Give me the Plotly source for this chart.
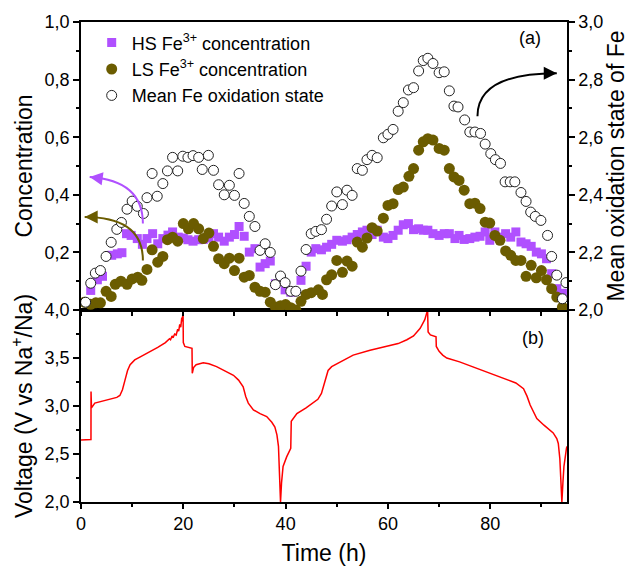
import plotly.graph_objects as go

# ---------------- data ----------------
hs_t = [1.9, 3.2, 4.2, 6.0, 7.1, 8.0, 8.9, 9.8, 11.0, 12.0, 12.9, 14.0, 15.0, 16.0, 17.0, 17.9, 19.0, 20.0,
        20.9, 21.9, 23.0, 23.9, 25.0, 25.9, 26.9, 28.0, 29.0, 30.0, 30.9, 31.9, 32.9, 34.0, 35.0, 36.0, 37.0,
        38.0, 39.0, 39.9, 41.0, 43.0, 44.0, 45.0, 45.9, 47.0, 48.0, 49.0, 50.0, 51.1, 52.0, 53.0, 54.0,
        55.0, 55.9, 56.9, 57.9, 59.1, 60.0, 61.0, 62.0, 63.0, 64.0, 65.0, 66.0, 66.9, 67.8, 68.8, 70.0, 71.0,
        72.0, 73.1, 73.9, 74.9, 76.0, 77.0, 78.0, 79.0, 79.9, 80.9, 81.9, 83.0, 84.0, 85.0, 86.0, 87.0, 88.0,
        89.0, 90.0, 91.0, 92.0, 93.0, 94.1]
hs_c = [0.068, 0.105, 0.117, 0.19, 0.195, 0.199, 0.265, 0.259, 0.248, 0.228, 0.248, 0.265, 0.23, 0.248, 0.26,
        0.271, 0.253, 0.25, 0.244, 0.239, 0.244, 0.245, 0.25, 0.265, 0.253, 0.239, 0.253, 0.262, 0.29, 0.256,
        0.201, 0.213, 0.149, 0.161, 0.17, 0.091, 0.103, 0.07, 0.062, 0.103, 0.152, 0.201, 0.213, 0.209, 0.218,
        0.228, 0.242, 0.239, 0.244, 0.253, 0.262, 0.271, 0.277, 0.262, 0.277, 0.253, 0.248, 0.259, 0.277, 0.296,
        0.30, 0.279, 0.282, 0.277, 0.277, 0.265, 0.259, 0.265, 0.265, 0.248, 0.259, 0.245, 0.248, 0.253, 0.256,
        0.271, 0.242, 0.271, 0.253, 0.265, 0.253, 0.271, 0.236, 0.230, 0.221, 0.201, 0.195, 0.178, 0.126, 0.074,
        0.058]

ls_t = [0.7, 1.9, 2.9, 3.8, 4.9, 5.9, 6.7, 7.8, 9.0, 10.0, 11.1, 11.9, 12.9, 13.9, 15.0, 16.0, 16.9, 17.9, 18.9,
        20.0, 21.0, 22.0, 23.0, 23.9, 25.0, 25.9, 26.9, 28.0, 29.0, 30.0, 30.9, 31.9, 32.9, 34.0, 35.0, 36.0,
        37.0, 38.0, 39.0, 40.0, 41.0, 42.0, 43.0, 44.0, 45.0, 46.4, 47.2, 48.0, 49.0, 50.0, 51.1, 52.0, 53.0,
        54.0, 55.0, 55.9, 56.9, 57.9, 59.1, 60.0, 61.0, 62.0, 63.0, 64.1, 65.0, 66.0, 66.9, 67.8, 68.8, 70.0,
        71.0, 72.0, 72.9, 73.9, 74.9, 76.0, 77.0, 78.0, 79.0, 79.9, 80.9, 81.9, 83.0, 84.0, 85.0, 86.0, 87.0,
        88.0, 89.0, 90.0, 91.0, 92.0, 93.0, 94.1]
ls_c = [0.027, 0.02, 0.025, 0.025, 0.065, 0.047, 0.089, 0.10, 0.089, 0.108, 0.114, 0.103, 0.141, 0.209, 0.166,
        0.186, 0.244, 0.253, 0.239, 0.30, 0.282, 0.30, 0.282, 0.248, 0.267, 0.221, 0.178, 0.161, 0.18, 0.137,
        0.18, 0.114, 0.12, 0.079, 0.065, 0.062, 0.027, 0.01, 0.015, 0.019, 0.008, 0.0, 0.03, 0.054, 0.06, 0.07,
        0.054, 0.105, 0.122, 0.172, 0.131, 0.17, 0.152, 0.236, 0.218, 0.25, 0.286, 0.274, 0.319, 0.363, 0.369,
        0.418, 0.427, 0.464, 0.491, 0.555, 0.584, 0.595, 0.59, 0.561, 0.555, 0.491, 0.462, 0.45, 0.416, 0.369,
        0.371, 0.352, 0.305, 0.302, 0.259, 0.242, 0.205, 0.19, 0.172, 0.172, 0.117, 0.155, 0.112, 0.137, 0.105,
        0.074, 0.045, 0.01]

ox_t = [0.9, 1.9, 2.8, 3.8, 4.9, 5.9, 7.0, 7.9, 9.0, 10.0, 11.0, 12.2, 12.9, 13.9, 14.9, 16.0, 16.9, 17.9, 18.9,
        19.9, 20.9, 21.9, 23.0, 23.7, 24.9, 25.9, 26.9, 28.0, 29.0, 30.0, 30.9, 31.9, 32.9, 34.0, 35.0, 36.0,
        37.0, 38.0, 39.0, 39.9, 41.0, 42.0, 43.0, 44.0, 45.0, 45.9, 47.0, 48.0, 49.0, 50.0, 51.1, 52.0, 53.0,
        54.0, 55.0, 55.9, 56.9, 57.9, 59.1, 60.0, 61.0, 62.0, 63.0, 64.0, 65.0, 66.0, 66.9, 67.8, 68.8, 70.0,
        71.0, 72.0, 72.9, 73.7, 75.0, 76.0, 77.0, 78.1, 79.0, 80.1, 81.0, 82.0, 82.9, 83.9, 84.8, 86.0, 87.0,
        87.9, 88.8, 89.9, 91.2, 92.0, 93.0, 94.1, 94.8]
ox_v = [2.027, 2.093, 2.128, 2.137, 2.186, 2.235, 2.28, 2.304, 2.35, 2.378, 2.36, 2.335, 2.39, 2.474, 2.395,
        2.439, 2.483, 2.53, 2.483, 2.534, 2.53, 2.536, 2.53, 2.488, 2.537, 2.485, 2.435, 2.40, 2.433, 2.398,
        2.474, 2.37, 2.325, 2.29, 2.207, 2.23, 2.20, 2.088, 2.118, 2.095, 2.065, 2.065, 2.135, 2.21, 2.265,
        2.273, 2.279, 2.315, 2.361, 2.41, 2.366, 2.416, 2.398, 2.491, 2.485, 2.522, 2.537, 2.529, 2.598, 2.61,
        2.627, 2.69, 2.72, 2.764, 2.772, 2.83, 2.866, 2.874, 2.856, 2.824, 2.827, 2.761, 2.708, 2.705, 2.66,
        2.618, 2.618, 2.613, 2.576, 2.543, 2.522, 2.509, 2.445, 2.445, 2.445, 2.408, 2.377, 2.34, 2.325, 2.311,
        2.259, 2.186, 2.121, 2.039, 2.095]

volt_t = [0, 1.95, 1.96, 2.05, 2.7, 4.0, 5.7, 7.0, 7.6, 8.1, 8.6, 9.1, 9.6, 10.5, 11.5, 13.0, 15.0, 16.5,
          17.0, 17.3, 17.5, 17.8, 18.0, 18.3, 18.6, 18.9, 19.1, 19.3, 19.5, 19.7, 19.8, 19.95, 20.0, 20.3,
          21.7, 21.75, 22.0, 22.5, 23.9, 25.0, 26.5, 28.0, 29.8, 30.8, 31.7, 32.2, 32.7, 33.7, 35.0, 36.3,
          37.3, 37.9, 38.3, 38.6, 38.8, 39.0, 39.2, 39.5, 40.2, 41.0, 41.1, 42.2, 44.0, 45.4, 46.3, 47.0,
          47.7, 48.3, 49.0, 50.0, 53.2, 56.5, 59.8, 62.0, 63.7, 65.0, 66.3, 67.2, 67.75, 67.85, 68.3, 69.4,
          69.45, 70.0, 70.7, 71.5, 74.0, 76.0, 79.0, 82.5, 85.0, 86.5, 87.2, 87.8, 88.4, 89.1, 90.5, 92.3,
          93.0, 93.3, 93.6, 93.8, 94.0, 94.2, 94.4, 94.9, 95.0]
volt_v = [2.646, 2.65, 3.15, 2.98, 3.03, 3.05, 3.07, 3.09, 3.11, 3.17, 3.27, 3.37, 3.43, 3.48, 3.51, 3.55, 3.61,
          3.66, 3.68, 3.70, 3.69, 3.73, 3.71, 3.75, 3.74, 3.80, 3.78, 3.85, 3.82, 3.92, 3.88, 4.0, 3.66, 3.62,
          3.60, 3.34, 3.40, 3.43, 3.45, 3.44, 3.41, 3.37, 3.32, 3.27, 3.20, 3.10, 3.03, 2.96, 2.92, 2.89,
          2.83, 2.78, 2.70, 2.58, 2.35, 2.0, 2.2, 2.37, 2.47, 2.56, 2.84, 2.92, 2.98, 3.03, 3.07, 3.13,
          3.27, 3.37, 3.41, 3.44, 3.53, 3.58, 3.62, 3.65, 3.69, 3.73, 3.81, 3.90, 4.0, 3.77, 3.74, 3.72,
          3.62, 3.57, 3.53, 3.50, 3.46, 3.42, 3.36, 3.29, 3.24, 3.18, 3.10, 3.01, 2.94, 2.87, 2.80, 2.72,
          2.66, 2.61, 2.45, 2.2, 2.0, 2.2, 2.37, 2.56, 2.58]

conc_ticks = [0.2, 0.4, 0.6, 0.8, 1.0]
ox_ticks = [2.0, 2.2, 2.4, 2.6, 2.8, 3.0]
volt_ticks = [2.0, 2.5, 3.0, 3.5, 4.0]
time_ticks = [0, 20, 40, 60, 80]

PURPLE = "#B050FF"
OLIVE = "#6B5C00"
FONT = "Liberation Sans, Arial, sans-serif"

fig = go.Figure()
fig.add_trace(go.Scatter(x=hs_t, y=hs_c, mode="markers", xaxis="x2", yaxis="y2",
                         name="HS Fe<sup>3+</sup> concentration",
                         marker=dict(symbol="square", size=9, color=PURPLE, line=dict(width=0))))
fig.add_trace(go.Scatter(x=ls_t, y=ls_c, mode="markers", xaxis="x2", yaxis="y2",
                         name="LS Fe<sup>3+</sup> concentration",
                         marker=dict(symbol="circle", size=11, color=OLIVE, line=dict(width=0))))
fig.add_trace(go.Scatter(x=ox_t, y=ox_v, mode="markers", xaxis="x2", yaxis="y3",
                         name="Mean Fe oxidation state",
                         marker=dict(symbol="circle", size=10, color="white",
                                     line=dict(width=1, color="#222222"))))
fig.add_trace(go.Scatter(x=volt_t, y=volt_v, mode="lines", xaxis="x", yaxis="y",
                         showlegend=False, line=dict(color="#FF0000", width=1.5)))

axis_common = dict(showgrid=False, zeroline=False, showline=True, linecolor="black", linewidth=1.5,
                   ticks="outside", tickcolor="black", tickwidth=1.5, automargin=False,
                   tickfont=dict(family=FONT, size=18, color="black"))

fig.update_layout(
    width=633, height=573,
    margin=dict(l=81, r=66, t=22, b=71),
    paper_bgcolor="white", plot_bgcolor="white",
    separators=",.",
    font=dict(family=FONT, color="black"),
    xaxis=dict(domain=[0, 1], range=[0, 95], anchor="y", mirror=True, tickvals=time_ticks,
               ticklen=5, minor=dict(dtick=10, tick0=0, ticklen=3, ticks="outside", tickcolor="black"),
               title=dict(text="Time (h)", font=dict(size=23, family=FONT), standoff=12),
               **axis_common),
    xaxis2=dict(domain=[0, 1], range=[0, 95], anchor="y2", matches="x", showticklabels=False,
                mirror=True, tickvals=time_ticks, ticklen=4,
                minor=dict(dtick=10, tick0=0, ticklen=4, ticks="outside", tickcolor="black"),
                **axis_common),
    yaxis=dict(domain=[0, 0.4], range=[2.0, 4.0], anchor="x", mirror=True, tickvals=volt_ticks,
               tickformat=".1f", ticklen=6,
               minor=dict(dtick=0.25, tick0=2.0, ticklen=3, ticks="outside", tickcolor="black"),
               title=dict(text="Voltage (V vs Na<sup>+</sup>/Na)", font=dict(size=23, family=FONT), standoff=6),
               **axis_common),
    yaxis2=dict(domain=[0.4, 1.0], range=[0, 1.0], anchor="x2", tickvals=conc_ticks,
                tickformat=".1f", ticklen=6,
                minor=dict(dtick=0.1, tick0=0, ticklen=3, ticks="outside", tickcolor="black"),
                title=dict(text="Concentration", font=dict(size=23, family=FONT), standoff=6),
                **axis_common),
    yaxis3=dict(range=[2.0, 3.0], overlaying="y2", side="right", anchor="x2", tickvals=ox_ticks,
                tickformat=".1f", ticklen=6,
                minor=dict(dtick=0.1, tick0=2.0, ticklen=3, ticks="outside", tickcolor="black"),
                title=dict(text="Mean oxidation state of Fe", font=dict(size=23, family=FONT), standoff=6),
                **axis_common),
    legend=dict(x=0.022, y=0.995, xanchor="left", yanchor="top", bgcolor="rgba(0,0,0,0)",
                font=dict(family=FONT, size=18, color="black"), tracegroupgap=0, itemsizing="trace"),
    showlegend=True,
)

# curved arrows (decorations)
arrows = [
    ("x2", "y2", (12.1, 0.30), (12.1, 0.45), (1.7, 0.462), PURPLE, 14, 2),
    ("x2", "y2", (12.1, 0.172), (12.1, 0.323), (0.72, 0.323), OLIVE, 14, 0),
    ("x2", "y3", (77.5, 2.673), (77.5, 2.822), (93.0, 2.822), "black", -14, 0),
]
for xr, yr, p0, p1, p2, col, ax, ay in arrows:
    fig.add_shape(type="path", xref=xr, yref=yr,
                  path=f"M {p0[0]},{p0[1]} Q {p1[0]},{p1[1]} {p2[0]},{p2[1]}",
                  line=dict(color=col, width=2))
    fig.add_annotation(x=p2[0], y=p2[1], xref=xr, yref=yr, text="", showarrow=True,
                       ax=ax, ay=ay, arrowhead=2, arrowsize=1.3, arrowwidth=2, arrowcolor=col)

fig.add_annotation(x=87.8, y=0.944, xref="x2", yref="y2", text="(a)", showarrow=False,
                   font=dict(family=FONT, size=18, color="black"))
fig.add_annotation(x=88.3, y=3.71, xref="x", yref="y", text="(b)", showarrow=False,
                   font=dict(family=FONT, size=18, color="black"))

fig.write_html("out.html", config={"displayModeBar": False},
               post_script="document.body.style.margin='0';document.body.style.overflow='hidden';")
